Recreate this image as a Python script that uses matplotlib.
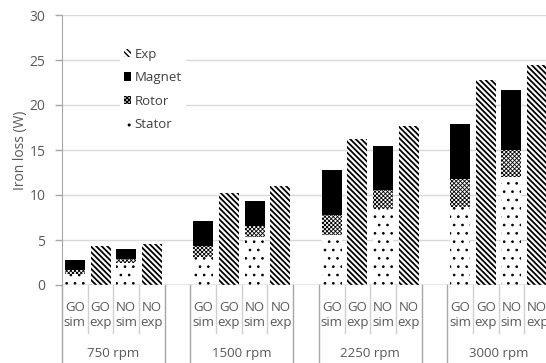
import matplotlib
matplotlib.use("Agg")
import matplotlib.pyplot as plt
import matplotlib.transforms as mtransforms
from matplotlib.patches import Patch

plt.rcParams['font.family'] = ['Open Sans', 'DejaVu Sans']

speeds = ['750 rpm', '1500 rpm', '2250 rpm', '3000 rpm']
sub_labels = ['GO\nsim', 'GO\nexp', 'NO\nsim', 'NO\nexp']

# simulated loss components (GO sim, NO sim) per speed
go_stator = [1.2, 3.15, 5.6, 8.7]
go_rotor = [0.5, 1.2, 2.2, 3.1]
go_magnet = [1.1, 2.75, 5.0, 6.1]
no_stator = [2.5, 5.3, 8.5, 12.0]
no_rotor = [0.4, 1.3, 2.1, 3.0]
no_magnet = [1.1, 2.7, 4.9, 6.7]
# measured totals
go_exp = [4.37, 10.2, 16.2, 22.8]
no_exp = [4.52, 11.0, 17.7, 24.4]

grey = '#595959'
fig = plt.figure(figsize=(5.46, 3.63), dpi=100)
ax = fig.add_axes([62 / 546, 78 / 363, 488 / 546, 270 / 363])

w = 0.78
stat_kw = dict(facecolor='white', edgecolor='black', hatch='..', linewidth=0)
rot_kw = dict(facecolor='white', edgecolor='black', hatch='xxxxxxxx', linewidth=0)
mag_kw = dict(facecolor='black', edgecolor='black', linewidth=0)
exp_kw = dict(facecolor='white', edgecolor='black', hatch='\\\\\\\\\\\\', linewidth=0)
hatch_lw = {'stat': 0.7, 'rot': 0.6, 'exp': 1.3}


def bars(xs, hs, kind, kw, bottom=None):
    with plt.rc_context({'hatch.linewidth': hatch_lw.get(kind, 1.0)}):
        ax.bar(xs, hs, w, bottom=bottom, **kw)


for g in range(len(speeds)):
    base = g * 5
    xs = [base, base + 2]
    stat = [go_stator[g], no_stator[g]]
    rot = [go_rotor[g], no_rotor[g]]
    mag = [go_magnet[g], no_magnet[g]]
    bars(xs, stat, 'stat', stat_kw)
    bars(xs, rot, 'rot', rot_kw, bottom=stat)
    bars(xs, mag, 'mag', mag_kw, bottom=[a + b for a, b in zip(stat, rot)])
    bars([base + 1, base + 3], [go_exp[g], no_exp[g]], 'exp', exp_kw)

ax.set_xlim(-0.5, 18.5)
ax.set_ylim(0, 30)
ax.set_yticks(range(0, 31, 5))
ax.yaxis.grid(True, color='#d9d9d9', linewidth=1)
ax.set_axisbelow(True)
for s in ['top', 'right', 'bottom']:
    ax.spines[s].set_visible(False)
ax.spines['left'].set_color('#a6a6a6')
ax.tick_params(axis='y', colors=grey, labelsize=10, length=5, width=1,
               color='#a6a6a6', pad=7)
ax.tick_params(axis='y', labelcolor=grey)
ax.set_xticks([])
ax.set_ylabel('Iron loss (W)', fontsize=10, color=grey, labelpad=1)
ax.axhline(0, color='#a6a6a6', linewidth=1, zorder=3)

# multi-level category axis
trans = mtransforms.blended_transform_factory(ax.transData, ax.transAxes)
short_y = -48 / 270
long_y = -80 / 270
for g in range(len(speeds)):
    base = g * 5
    for k in range(4):
        ax.text(base + k, -30 / 270, sub_labels[k], transform=trans,
                ha='center', va='center', fontsize=9.5, color=grey,
                linespacing=1.2)
    for k in range(1, 4):
        ax.plot([base + k - 0.5] * 2, [0, short_y], transform=trans,
                color='#d0d0d0', linewidth=1, clip_on=False)
    for xb in [base - 0.5, base + 3.5]:
        ax.plot([xb] * 2, [0, long_y], transform=trans,
                color='#a6a6a6', linewidth=1, clip_on=False)
    ax.text(base + 1.5, -68 / 270, speeds[g], transform=trans,
            ha='center', va='center', fontsize=9.5, color=grey)

with plt.rc_context({'hatch.linewidth': 0.6}):
    handles = [Patch(**exp_kw, label='Exp'), Patch(**mag_kw, label='Magnet'),
               Patch(**rot_kw, label='Rotor'), Patch(**stat_kw, label='Stator')]
leg = ax.legend(handles=handles, loc='upper left',
                bbox_to_anchor=(51 / 488, 1 - 22 / 270), frameon=True,
                fontsize=9.5, handlelength=0.6, handleheight=0.6,
                handletextpad=0.25, labelspacing=0.8, borderpad=0.3)
leg.get_frame().set_edgecolor('none')
leg.get_frame().set_facecolor('white')
leg.get_frame().set_alpha(1)
for t in leg.get_texts():
    t.set_color('#404040')

fig.savefig('out.png', dpi=100)
